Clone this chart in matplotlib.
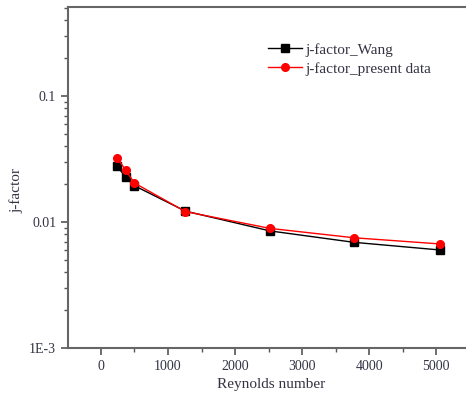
import matplotlib
matplotlib.use("Agg")
import matplotlib.pyplot as plt
from matplotlib.ticker import LogLocator, MultipleLocator, FixedLocator, FixedFormatter

re_wang = [240, 370, 500, 1260, 2520, 3770, 5050]
j_wang = [0.0279, 0.0226, 0.0194, 0.0122, 0.0085, 0.0069, 0.0060]
re_present = [240, 370, 500, 1260, 2520, 3770, 5050]
j_present = [0.0325, 0.0257, 0.0204, 0.0121, 0.0089, 0.0075, 0.0067]

plt.rcParams['font.family'] = ['Liberation Serif', 'DejaVu Serif']

fig = plt.figure(figsize=(4.66, 4.07), dpi=100)
ax = fig.add_axes([0.146, 0.145, 0.871, 0.838])

ax.plot(re_wang, j_wang, color='black', marker='s', markersize=5.5, lw=1,
        label='j-factor_Wang')
ax.plot(re_present, j_present, color='red', marker='o', markersize=5.5, lw=1,
        label='j-factor_present data')

ax.set_yscale('log')
ax.set_ylim(0.001, 0.51)
ax.set_xlim(-490, 5560)

ax.yaxis.set_major_locator(FixedLocator([0.001, 0.01, 0.1]))
ax.yaxis.set_major_formatter(FixedFormatter(['1E-3', '0.01', '0.1']))
ax.yaxis.set_minor_locator(LogLocator(base=10, subs=range(2, 10)))
ax.yaxis.set_minor_formatter(FixedFormatter([]))
ax.xaxis.set_major_locator(MultipleLocator(1000))
ax.xaxis.set_minor_locator(MultipleLocator(500))

tc = '#333344'
ax.tick_params(which='major', direction='out', length=5, width=1.2,
               colors='#555555', labelcolor=tc, labelsize=10)
ax.tick_params(which='minor', direction='out', length=3, width=1.0,
               colors='#555555')
for s in ax.spines.values():
    s.set_color('#666666')
    s.set_linewidth(1.5)

ax.set_xlabel('Reynolds number', fontsize=11, color=tc, labelpad=4)
ax.set_ylabel('j-factor', fontsize=11, color=tc)
ax.yaxis.set_label_coords(-0.11, 0.463)

leg = ax.legend(loc='upper left', bbox_to_anchor=(0.46, 0.935), frameon=False,
                fontsize=11, handlelength=2.2, labelspacing=0.35,
                handletextpad=0.2)
for t in leg.get_texts():
    t.set_color(tc)

fig.savefig('out.png', dpi=100)
